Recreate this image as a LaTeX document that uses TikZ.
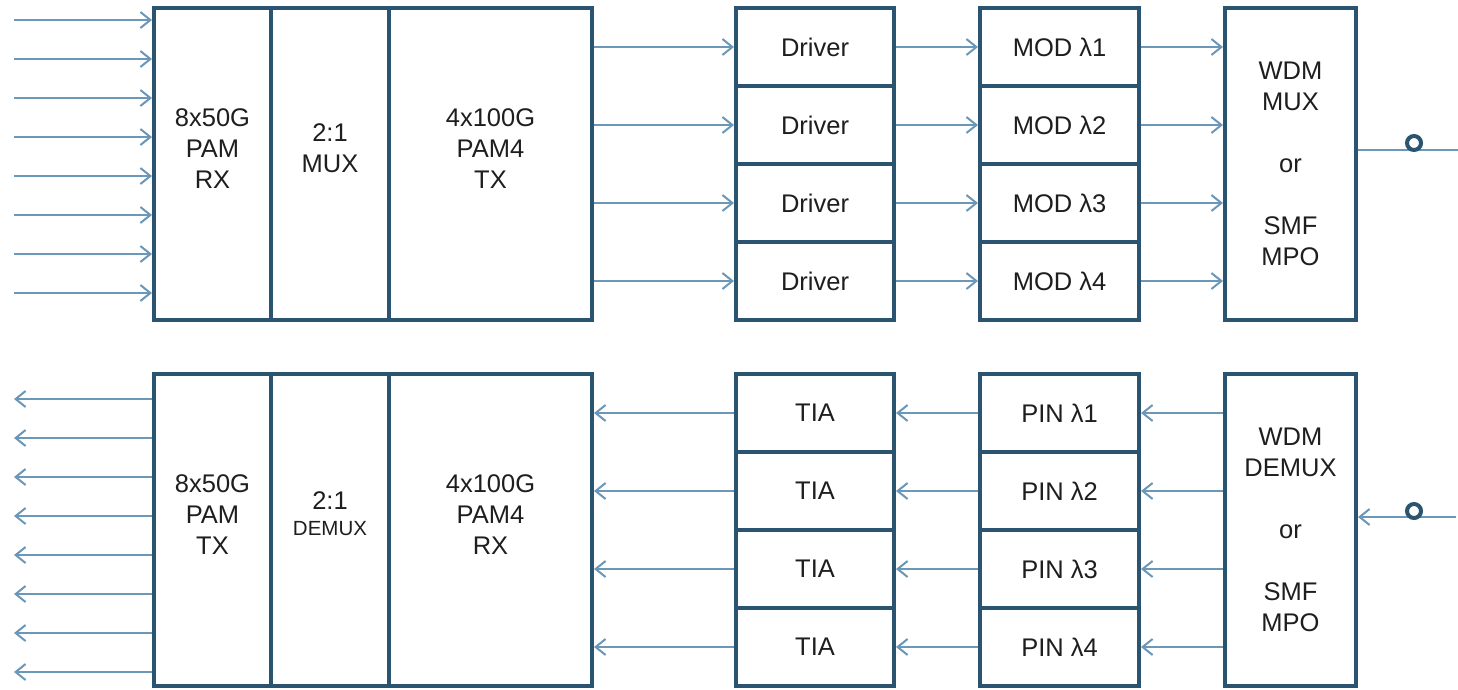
\documentclass[tikz,border=0pt]{standalone}
\usepackage{fontspec}
\setmainfont{Liberation Sans}
\usetikzlibrary{arrows.meta}
\definecolor{boxc}{HTML}{2B5470}
\definecolor{arrc}{HTML}{6B98B8}
\definecolor{txtc}{HTML}{1E1E1E}
\begin{document}
\begin{tikzpicture}[x=1pt,y=-1pt,
  cell/.style={draw=boxc, line width=4pt, rectangle, inner sep=0pt, outer sep=0pt,
    fill=white, text=txtc, font=\fontsize{25.5}{31}\selectfont, align=center},
  lbl/.style={text=txtc, font=\fontsize{25.5}{31}\selectfont, align=center, inner sep=0pt},
  small/.style={text=txtc, font=\fontsize{20.5}{24}\selectfont, inner sep=0pt},
  arr/.style={draw=arrc, line width=2pt, shorten >=2pt, shorten <=2pt,
    -{Straight Barb[length=10pt,width=16pt]}},
  ln/.style={draw=arrc, line width=2pt, shorten <=2pt},
  port/.style={draw=boxc, line width=4pt, circle, fill=white, minimum size=14pt, inner sep=0pt},
  big/.style={cell, minimum height=312pt},
  row/.style={cell, minimum height=78pt}
]
\useasboundingbox (0,0) rectangle (1458,689);

% ---------- top (transmit) ----------
\node[big, minimum width=117pt] (rx)  at (212.5,164) {};
\node[big, minimum width=118pt] (mux) at (330,164) {};
\node[big, minimum width=203pt] (tx)  at (490.5,164) {};
\node[lbl] (rxt)  at (212.5,149) {8x50G\\PAM\\RX};
\node[lbl] (muxt) at (330,148) {2:1\\MUX};
\node[lbl] (txt)  at (490.5,149) {4x100G\\PAM4\\TX};

\foreach \i/\y in {1/47,2/125,3/203,4/281}{
  \node[row, minimum width=158pt] (drv\i) at (815,\y) {Driver};
  \node[row, minimum width=159pt] (mod\i) at (1059.5,\y) {MOD λ\i};
}
\node[big, minimum width=131pt] (wdm1) at (1290.5,164) {WDM\\MUX\\[31pt]or\\[31pt]SMF\\MPO};

\foreach \i/\y in {1/20,2/59,3/98,4/137,5/176,6/215,7/254,8/293}{
  \coordinate (in\i) at (12,\y);
  \draw[arr] (in\i) -- (in\i -| rx.west);
}
\foreach \i in {1,...,4}{
  \draw[arr] (tx.east |- drv\i) -- (drv\i.west);
  \draw[arr] (drv\i.east) -- (mod\i.west);
  \draw[arr] (mod\i.east) -- (wdm1.west |- mod\i);
}
\coordinate (right1) at (1458,150);
\draw[ln] (right1 -| wdm1.east) -- (right1);
\node[port] (p1) at (1414,143) {};

% ---------- bottom (receive) ----------
\node[big, minimum width=117pt] (trx)   at (212.5,530) {};
\node[big, minimum width=118pt] (demux) at (330,530) {};
\node[big, minimum width=203pt] (rrx)   at (490.5,530) {};
\node[lbl] (trxt) at (212.5,515) {8x50G\\PAM\\TX};
\node[lbl] (dmt1) at (330,501) {2:1};
\node[small] (dmt2) at (330,529) {DEMUX};
\node[lbl] (rrxt) at (490.5,515) {4x100G\\PAM4\\RX};

\foreach \i/\y in {1/413,2/491,3/569,4/647}{
  \node[row, minimum width=158pt] (tia\i) at (815,\y) {TIA};
  \node[row, minimum width=159pt] (pin\i) at (1059.5,\y) {PIN λ\i};
}
\node[big, minimum width=131pt] (wdm2) at (1290.5,530) {WDM\\DEMUX\\[31pt]or\\[31pt]SMF\\MPO};

\foreach \i/\y in {1/399,2/438,3/477,4/516,5/555,6/594,7/633,8/672}{
  \coordinate (out\i) at (12,\y);
  \draw[arr] (out\i -| trx.west) -- (out\i);
}
\foreach \i in {1,...,4}{
  \draw[arr] (tia\i.west) -- (rrx.east |- tia\i);
  \draw[arr] (pin\i.west) -- (tia\i.east);
  \draw[arr] (wdm2.west |- pin\i) -- (pin\i.east);
}
\coordinate (right2) at (1458,517);
\draw[arr] (right2) -- (right2 -| wdm2.east);
\node[port] (p2) at (1414,511) {};
\end{tikzpicture}
\end{document}
